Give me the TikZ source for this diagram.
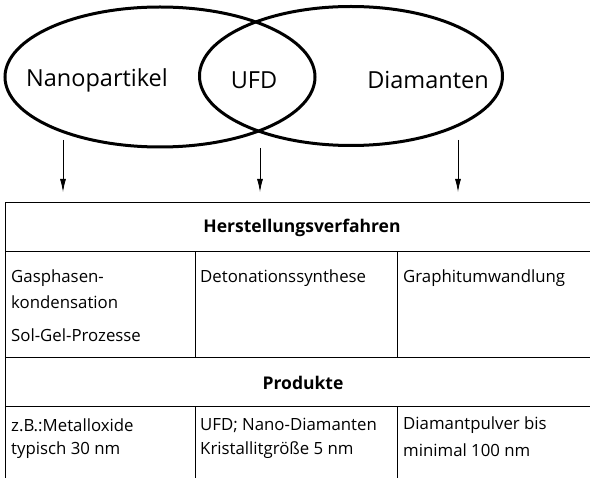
\documentclass[tikz,border=0pt]{standalone}
\usepackage{fontspec}
\setmainfont{Open Sans}
\usetikzlibrary{arrows.meta,shapes.geometric}

\begin{document}
\begin{tikzpicture}[x=1pt,y=-1pt,
  ring/.style={draw,ellipse,line width=3pt,inner sep=0pt},
  big/.style={inner sep=0pt,font=\fontsize{23.5}{26}\selectfont},
  cell/.style={anchor=west,inner sep=0pt,font=\fontsize{16.8}{19}\selectfont},
  head/.style={inner sep=0pt,font=\fontsize{17.5}{20}\selectfont\bfseries},
  rule/.style={line width=1pt},
  arrow/.style={-{Latex[length=13pt,width=6pt]},line width=0.8pt}
]
\useasboundingbox (0,0) rectangle (590,478);

% the two overlapping fields
\node[ring,minimum width=310pt,minimum height=140pt] (nano) at (160,77) {};
\node[ring,minimum width=303pt,minimum height=139pt] (dia) at (351,76) {};
\node[big] (lnano) at (97,80) {Nanopartikel};
\node[big] (lufd) at (254,80) {UFD};
\node[big] (ldia) at (428,80) {Diamanten};

% arrows down to the table
\coordinate (a1) at (63,140);  \coordinate (b1) at (63,192);
\coordinate (a2) at (260,148); \coordinate (b2) at (260,192);
\coordinate (a3) at (458,140); \coordinate (b3) at (458,192);
\draw[arrow] (a1) -- (b1);
\draw[arrow] (a2) -- (b2);
\draw[arrow] (a3) -- (b3);

% table rules
\draw[rule] (5,203) -- (590,203);
\draw[rule] (5,252) -- (590,252);
\draw[rule] (5,358) -- (590,358);
\draw[rule] (5,407) -- (590,407);
\draw[rule] (5,203) -- (5,478);
\draw[rule] (195,252) -- (195,358);
\draw[rule] (397,252) -- (397,358);
\draw[rule] (195,407) -- (195,478);
\draw[rule] (397,407) -- (397,478);

% header rows
\node[head] (hverf) at (302,228) {Herstellungsverfahren};
\node[head] (hprod) at (303,383) {Produkte};

% cells
\node[cell] (gas) at (11,278) {Gasphasen-};
\node[cell] (kond) at (11,302) {kondensation};
\node[cell] (solgel) at (11,335) {Sol-Gel-Prozesse};
\node[cell] (deto) at (200,278) {Detonationssynthese};
\node[cell] (graph) at (403,278) {Graphitumwandlung};
\node[cell] (metal) at (11,425) {z.B.:Metalloxide};
\node[cell] (typ) at (11,450) {typisch 30 nm};
\node[cell] (ufdnano) at (200,425) {UFD; Nano-Diamanten};
\node[cell] (krist) at (200,450) {Kristallitgröße 5 nm};
\node[cell] (pulver) at (403,425) {Diamantpulver bis};
\node[cell] (minimal) at (403,450) {minimal 100 nm};
\end{tikzpicture}
\end{document}
